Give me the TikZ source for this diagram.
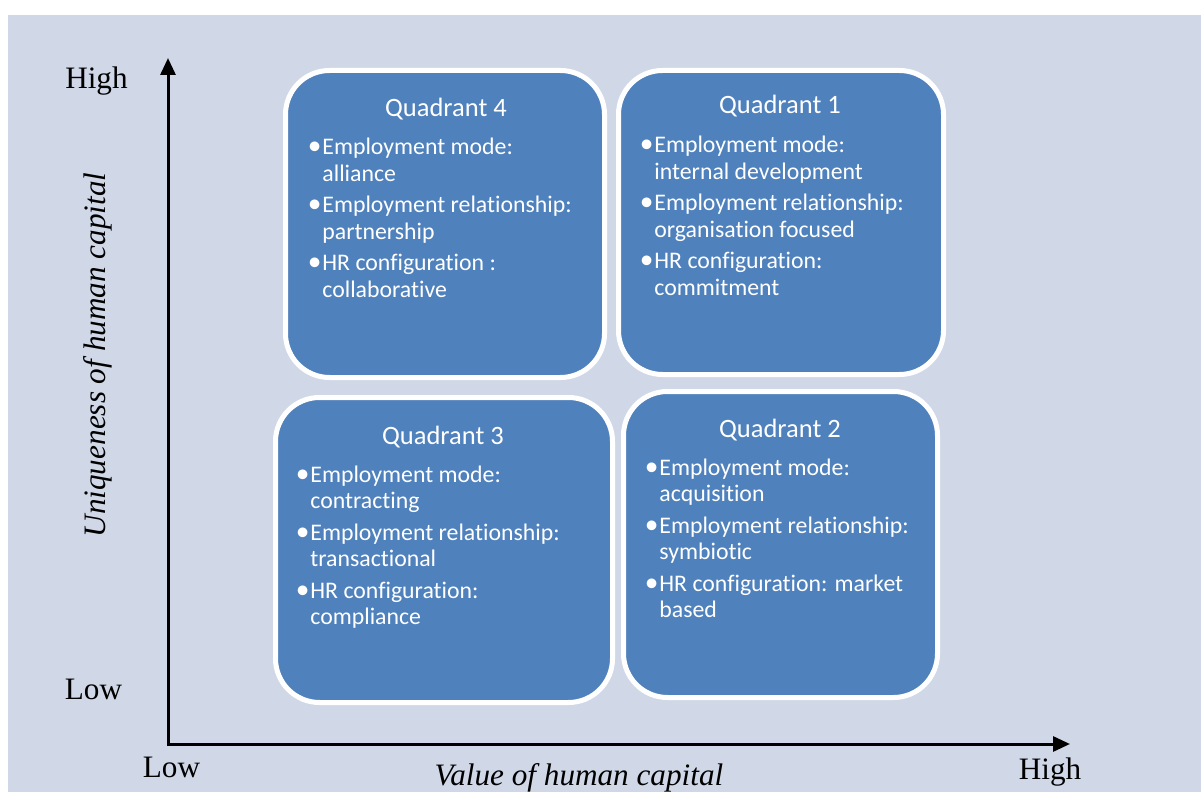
\documentclass[tikz,border=0pt]{standalone}
\usepackage{fontspec}
\setmainfont{Liberation Serif}
\newfontfamily\calib{Carlito}[Ligatures=NoCommon]
\usetikzlibrary{arrows.meta}
\definecolor{bgc}{HTML}{D0D8E8}
\definecolor{qblue}{HTML}{4F81BD}
\newcommand{\qb}{\makebox[6pt][l]{\hspace{2.2pt}\makebox[0pt]{\scalebox{1.15}{•}}}}
\newcommand{\qlist}[6]{\begin{tabular}[t]{@{}l@{}l@{}}\qb&#1\\&#2\\[2.5pt]\qb&#3\\&#4\\[2.5pt]\qb&#5\\&#6\end{tabular}}
\tikzset{
 quad/.style={draw=white, line width=2.5pt, fill=qblue, rounded corners=22pt, inner sep=0pt},
 qtitle/.style={text=white, font=\calib\fontsize{13.25}{15}\selectfont, anchor=base, inner sep=0pt},
 qlistn/.style={text=white, font=\calib\fontsize{11.9}{13.25}\selectfont, anchor=base west, inner sep=0pt},
 axis/.style={line width=1.5pt, {Triangle[length=8.5pt,width=7.5pt]}-{Triangle[length=8.5pt,width=7.5pt]}},
 lab/.style={font=\fontsize{15.6}{18}\selectfont, inner sep=0pt, anchor=base}
}
\begin{document}
\begin{tikzpicture}[x=0.5pt,y=-0.5pt]
\useasboundingbox (0,0) rectangle (1201,792);
\fill[bgc] (8,15) rectangle (1201,792);
% boxes
\node[quad, minimum width=159.5pt, minimum height=153.5pt] (q4) at (445,224) {};
\node[quad, minimum width=162.5pt, minimum height=152pt] (q1) at (781,222.5) {};
\node[quad, minimum width=168.5pt, minimum height=152.5pt] (q3) at (444,550) {};
\node[quad, minimum width=157pt, minimum height=153pt] (q2) at (780.5,544.5) {};
% titles
\node[qtitle] (t4) at (446,117) {Quadrant 4};
\node[qtitle] (t1) at (780,114) {Quadrant 1};
\node[qtitle] (t3) at (443,444) {Quadrant 3};
\node[qtitle] (t2) at (780,437) {Quadrant 2};
% lists
\node[qlistn] (l4) at (310,155) {\qlist{Employment mode:}{alliance}{Employment relationship:}{partnership}{HR configuration :}{collaborative}};
\node[qlistn] (l1) at (642,153) {\qlist{Employment mode:}{internal development}{Employment relationship:}{organisation focused}{HR configuration:}{commitment}};
\node[qlistn] (l3) at (298,482) {\qlist{Employment mode:}{contracting}{Employment relationship:}{transactional}{HR configuration:}{compliance}};
\node[qlistn] (l2) at (647,475) {\qlist{Employment mode:}{acquisition}{Employment relationship:}{symbiotic}{HR configuration: market}{based}};
% axes
\coordinate (O) at (168,744);
\coordinate (Ytip) at (168,58);
\coordinate (Xtip) at (1070,744);
\draw[axis] (Ytip) -- (O) -- (Xtip);
% labels
\node[lab] (yhigh) at (96.5,89) {High};
\node[lab] (ylow) at (93.5,699) {Low};
\node[lab] (xlow) at (171.5,777) {Low};
\node[lab] (xhigh) at (1050,779) {High};
\node[lab] (xlab) at (579,785) {\itshape Value of human capital};
\node[lab, rotate=90] (ylab) at (105,355) {\itshape Uniqueness of human capital};
\end{tikzpicture}
\end{document}
